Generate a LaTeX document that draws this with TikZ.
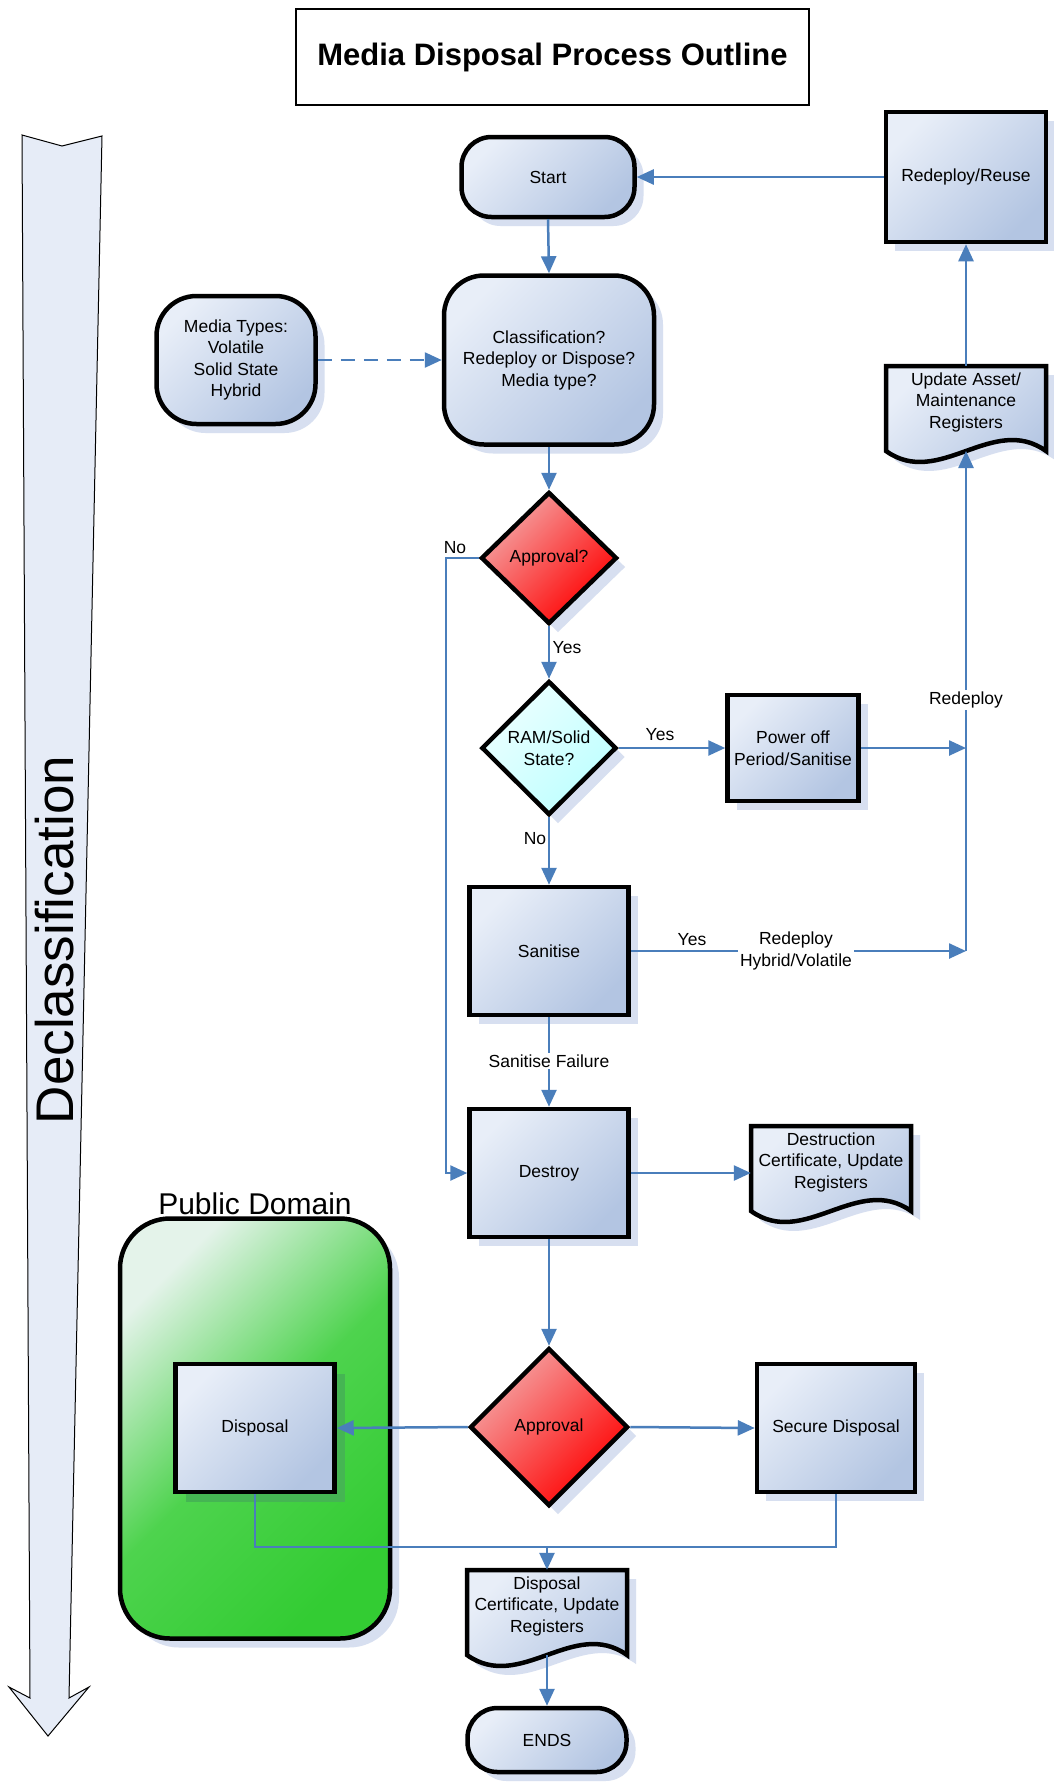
\documentclass[tikz,border=0pt]{standalone}
\usepackage{fontspec}
\setmainfont{Liberation Sans}
\usetikzlibrary{shapes.geometric,arrows.meta,shadows,calc}
\definecolor{conncol}{HTML}{4A7EBB}
\definecolor{shadowc}{HTML}{D7DFF0}
\definecolor{bluetop}{HTML}{E8EEF8}
\definecolor{bluebot}{HTML}{B3C5E2}
\definecolor{redtop}{HTML}{F4A6A6}
\definecolor{redbot}{HTML}{FF0000}
\definecolor{cyantop}{HTML}{ECFFFF}
\definecolor{cyanbot}{HTML}{BDFFFF}
\definecolor{greentop}{HTML}{E4F3EA}
\definecolor{greenmid}{HTML}{4ED34E}
\definecolor{greenbot}{HTML}{33CC33}
\definecolor{arrowfill}{HTML}{E6ECF7}
\definecolor{dispshadow}{HTML}{45B553}
\tikzset{
  shad/.style={drop shadow={shadow xshift=9pt,shadow yshift=-9pt,fill=shadowc,opacity=1}},
  txt/.style={font=\fontsize{17.5}{21.5}\selectfont, align=center},
  blueshade/.style={top color=bluetop, bottom color=bluebot, shading angle=45},
  boxbase/.style={draw=black, line width=4.5pt, inner sep=2pt, txt},
  procbox/.style={boxbase, rectangle, blueshade, shad},
  roundbox/.style={boxbase, rectangle, rounded corners=#1, blueshade, shad},
  diamred/.style={boxbase, diamond, shape aspect=1, inner sep=0pt, top color=redtop, bottom color=redbot, shading angle=45, shad},
  diamcyan/.style={boxbase, diamond, shape aspect=1, inner sep=0pt, top color=cyantop, bottom color=cyanbot, shading angle=45, shad},
  wire/.style={draw=conncol, line width=2.5pt},
  conn/.style={wire, -{Triangle[length=17pt,width=15pt]}},
  lbl/.style={txt, inner sep=1pt},
  wlbl/.style={txt, inner sep=2pt, fill=white},
}
\newcommand\docshape[4]{%
  \path[draw=black, line width=4.5pt, blueshade, shad]
    ({#2-80},#3) -- ({#2+80},#3) -- ({#2+80},{#3+85})
    .. controls ({#2+27},{#3+47}) and ({#2-27},{#3+123}) .. ({#2-80},{#3+85}) -- cycle;
  \node[lbl, minimum width=160pt, minimum height=72pt] (#1) at (#2,{#3+36}) {#4};
  \coordinate (#1-b) at (#2,{#3+85});
}
\begin{document}
\begin{tikzpicture}[x=1pt,y=-1pt]
\fill[white] (0,0) rectangle (1053,1792);
\useasboundingbox (0,0) rectangle (1053,1792);

% Declassification arrow
\path[draw=black, line width=1pt, fill=arrowfill]
  (22,135) -- (62,146) -- (102,136) -- (69,1698) -- (89,1687) -- (48,1736)
  -- (9,1687) -- (30,1698) -- cycle;
\node[rotate=90, font=\fontsize{53}{60}\selectfont, inner sep=0pt] (declass) at (55,940) {Declassification};

% Title
\node[draw=black, line width=2pt, minimum width=513pt, minimum height=96pt,
      font=\bfseries\fontsize{31}{37}\selectfont] (title) at (552.5,57) {Media Disposal Process Outline};

% Public domain zone
\node[draw=black, line width=4.5pt, rounded corners=50pt, minimum width=270pt, minimum height=420pt,
      top color=greentop, bottom color=greenbot, middle color=greenmid, shading angle=45, shad] (pub) at (255,1428.5) {};
\node[lbl, font=\fontsize{30}{36}\selectfont] (publbl) at (255,1204) {Public Domain};

% Shapes
\node[roundbox=30pt, minimum width=173pt, minimum height=80pt] (start) at (548,177) {Start};
\node[roundbox=40pt, minimum width=210pt, minimum height=169pt] (classif) at (549,360) {Classification?\\Redeploy or Dispose?\\Media type?};
\node[roundbox=40pt, minimum width=159pt, minimum height=128pt] (media) at (236,360) {Media Types:\\Volatile\\Solid State\\Hybrid};
\node[procbox, minimum width=160pt, minimum height=130pt] (reuse) at (966,177) {Redeploy/Reuse};
\docshape{upd}{966}{366}{Update Asset/\\Maintenance\\Registers}
\node[diamred, minimum width=136pt, minimum height=132pt] (appq) at (549,558) {Approval?};
\node[diamcyan, minimum width=135pt, minimum height=134pt] (ram) at (549,748) {RAM/Solid\\State?};
\node[procbox, minimum width=131pt, minimum height=106pt] (power) at (793,748) {Power off\\Period/Sanitise};
\node[procbox, minimum width=159pt, minimum height=128pt] (san) at (549,951) {Sanitise};
\node[procbox, minimum width=159pt, minimum height=128pt] (destroy) at (549,1173) {Destroy};
\docshape{dest}{831}{1126}{Destruction\\Certificate, Update\\Registers}
\node[boxbase, rectangle, blueshade, drop shadow={shadow xshift=10pt,shadow yshift=-10pt,fill=dispshadow,opacity=1},
      minimum width=159pt, minimum height=128pt] (disp) at (255,1428) {Disposal};
\node[diamred, minimum width=158pt, minimum height=158pt] (appr) at (549,1427) {Approval};
\node[procbox, minimum width=158pt, minimum height=128pt] (secure) at (836,1428) {Secure Disposal};
\docshape{dcert}{547}{1570}{Disposal\\Certificate, Update\\Registers}
\node[roundbox=30pt, minimum width=159pt, minimum height=64pt] (ends) at (547,1740) {ENDS};

% Connectors
\coordinate (nob) at (446,558);
\coordinate (rvb) at (966,951);
\coordinate (mj) at (547,1547);
\draw[conn] (start.south) -- (classif.north);
\draw[conn, dash pattern=on 14pt off 9pt] (media.east) -- (classif.west);
\draw[conn] (reuse.west) -- (start.east);
\draw[conn] (upd.north) -- (reuse.south);
\draw[conn] (classif.south) -- (appq.north);
\draw[conn] (appq.south) -- (ram.north);
\draw[conn] (appq.west) -- (nob) |- (destroy.west);
\draw[conn] (ram.east) -- (power.west);
\draw[conn] (power.east) -- (power.east -| rvb);
\draw[conn] (san.east) -- (rvb);
\draw[conn] (rvb) -- (upd-b);
\draw[conn] (ram.south) -- (san.north);
\draw[conn] (san.south) -- (destroy.north);
\draw[conn] (destroy.east) -- (destroy.east -| dest.west);
\draw[conn] (destroy.south) -- (appr.north);
\draw[conn] (appr.west) -- (disp.east);
\draw[conn] (appr.east) -- (secure.west);
\draw[wire] (disp.south) |- (mj);
\draw[wire] (secure.south) |- (mj);
\draw[conn] (mj) -- (dcert.north);
\draw[conn] (dcert-b) -- (ends.north);

% Labels
\node[lbl] (lno1) at (455,548) {No};
\node[lbl] (lyes1) at (567,648) {Yes};
\node[lbl] (lyes2) at (660,735) {Yes};
\node[lbl] (lno2) at (535,839) {No};
\node[lbl] (lyes3) at (692,940) {Yes};
\node[wlbl] (lhv) at (796,951) {Redeploy\\Hybrid/Volatile};
\node[wlbl] (lred) at (966,700) {Redeploy};
\node[wlbl] (lfail) at (549,1061) {Sanitise Failure};
\end{tikzpicture}
\end{document}
